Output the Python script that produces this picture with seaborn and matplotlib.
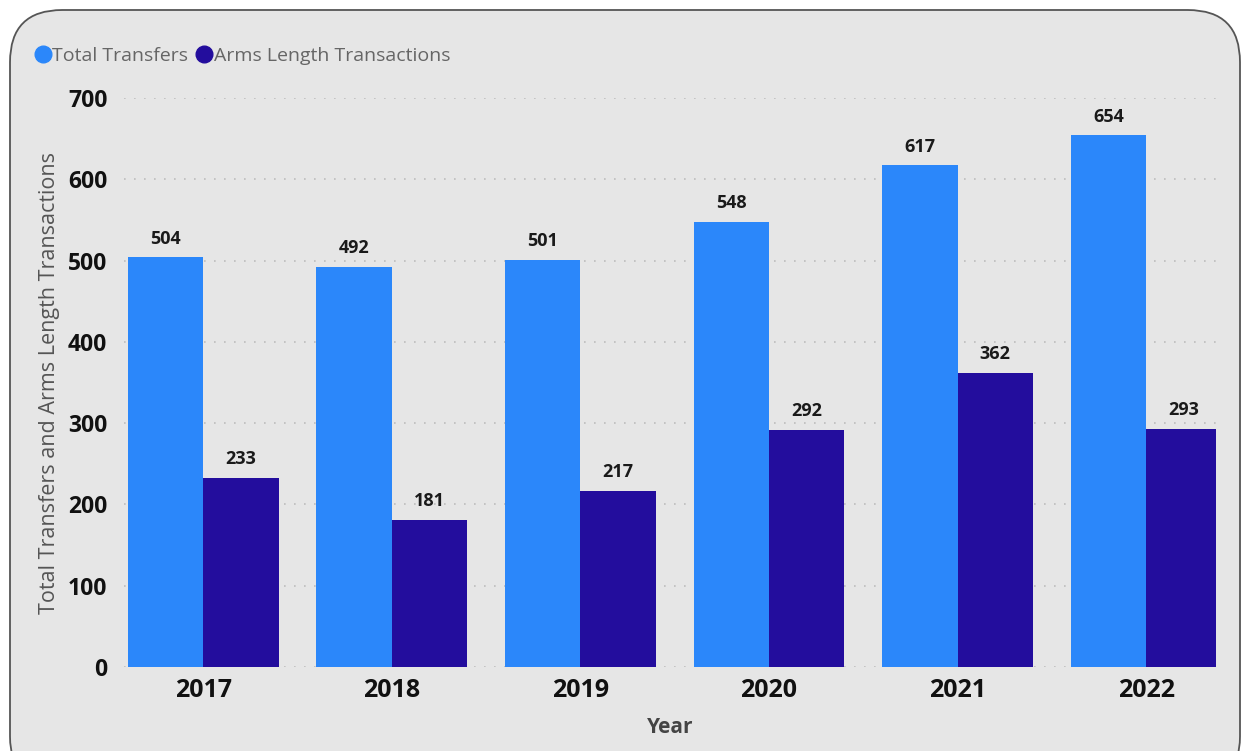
import matplotlib
matplotlib.use("Agg")
import matplotlib.pyplot as plt
from matplotlib.patches import FancyBboxPatch
from matplotlib.lines import Line2D
import seaborn as sns
import pandas as pd

years = ["2017", "2018", "2019", "2020", "2021", "2022"]
total_transfers = [504, 492, 501, 548, 617, 654]
arms_length = [233, 181, 217, 292, 362, 293]
series_names = ["Total Transfers", "Arms Length Transactions"]
y_ticks = [0, 100, 200, 300, 400, 500, 600, 700]

colors = ["#2B87FA", "#230D9D"]
panel_bg = "#E6E6E6"

df = pd.DataFrame({
    "Year": years * 2,
    "Series": [series_names[0]] * len(years) + [series_names[1]] * len(years),
    "Value": total_transfers + arms_length,
})

sns.set_theme(style="white")
plt.rcParams["font.family"] = ["Open Sans", "DejaVu Sans"]

fig = plt.figure(figsize=(12.43, 7.51), dpi=100)
fig.patch.set_facecolor("white")

# rounded card behind the chart
card_bottom = -0.05
card_top = 1 - 10 / 751
card = FancyBboxPatch((10 / 1243, card_bottom), 1230 / 1243, card_top - card_bottom,
                      boxstyle="round,pad=0,rounding_size=0.042",
                      transform=fig.transFigure, facecolor=panel_bg,
                      edgecolor="#555555", linewidth=1.3,
                      mutation_aspect=1243 / 751, zorder=-10)
fig.patches.append(card)

ax = fig.add_axes([124 / 1243, 84 / 751, 1092 / 1243, 569 / 751])
ax.set_facecolor("none")

sns.barplot(data=df, x="Year", y="Value", hue="Series", order=years,
            hue_order=series_names, palette=colors, width=0.8,
            saturation=1, ax=ax, legend=False, zorder=3, linewidth=0)

for cont in ax.containers:
    ax.bar_label(cont, fmt="%d", padding=7, fontsize=13, fontweight="bold",
                 color="#1a1a1a")

ax.set_ylim(0, 700)
ax.set_xlim(-0.42, 5.37)
ax.set_yticks(y_ticks)
ax.yaxis.grid(True, linestyle=(0, (1, 5)), color="#bdbdbd", linewidth=1.2, zorder=0)
ax.set_axisbelow(True)
for s in ax.spines.values():
    s.set_visible(False)
ax.tick_params(axis="both", length=0)
ax.tick_params(axis="y", labelsize=16.5, pad=12)
ax.tick_params(axis="x", labelsize=18, pad=8)
for lab in ax.get_yticklabels() + ax.get_xticklabels():
    lab.set_fontweight("bold")
    lab.set_color("#111111")

ax.set_xlabel("Year", fontsize=15, fontweight="bold", color="#444444", labelpad=10)
ax.set_ylabel("Total Transfers and Arms Length Transactions", fontsize=15.5,
              color="#555555", labelpad=6)

handles = [Line2D([0], [0], marker="o", linestyle="", markersize=12,
                  markerfacecolor=c, markeredgecolor=c) for c in colors]
fig.legend(handles, series_names, loc="center left",
           bbox_to_anchor=(25 / 1243, 1 - 56 / 751), ncol=2, frameon=False,
           fontsize=14, labelcolor="#666666", handletextpad=0.0,
           columnspacing=0.3, borderaxespad=0, handlelength=1.0)

fig.savefig("out.png", dpi=100, facecolor="white")
